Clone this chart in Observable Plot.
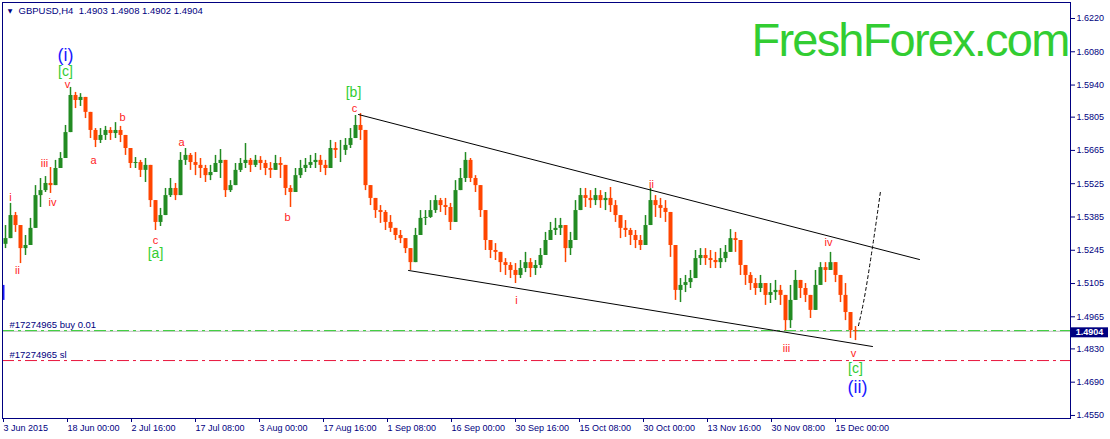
<!DOCTYPE html>
<html><head><meta charset="utf-8">
<script src="https://cdn.jsdelivr.net/npm/d3@7"></script>
<script src="https://cdn.jsdelivr.net/npm/@observablehq/plot@0.6"></script>
<style>body{margin:0;background:#fff;} svg{display:block}</style>
</head><body><div id="chart"></div>
<script>
const firstIndex = 2;
const step = 5;
const firstOpen = 1.5270;
const closes = [
1.5294,1.5391,1.5349,1.5252,1.5265,1.5337,1.5475,1.5496,1.5526,1.5517,
1.5589,1.5631,1.5740,1.5896,1.5875,1.5888,1.5825,1.5749,1.5707,1.5728,
1.5749,1.5736,1.5749,1.5728,1.5673,1.5610,1.5614,1.5581,1.5602,1.5454,
1.5362,1.5391,1.5475,1.5505,1.5475,1.5623,1.5644,1.5614,1.5602,1.5589,
1.5559,1.5572,1.5610,1.5623,1.5496,1.5517,1.5581,1.5610,1.5623,1.5602,
1.5623,1.5610,1.5589,1.5581,1.5610,1.5602,1.5505,1.5488,1.5559,1.5589,
1.5602,1.5614,1.5623,1.5602,1.5589,1.5673,1.5665,1.5665,1.5686,1.5715,
1.5770,1.5749,1.5517,1.5463,1.5412,1.5404,1.5362,1.5337,1.5307,1.5294,
1.5252,1.5193,1.5307,1.5379,1.5383,1.5412,1.5454,1.5433,1.5425,1.5362,
1.5496,1.5547,1.5623,1.5547,1.5517,1.5412,1.5286,1.5244,1.5236,1.5193,
1.5181,1.5160,1.5139,1.5168,1.5193,1.5168,1.5181,1.5223,1.5286,1.5328,
1.5337,1.5349,1.5252,1.5286,1.5412,1.5475,1.5463,1.5454,1.5475,1.5454,
1.5463,1.5433,1.5391,1.5337,1.5328,1.5307,1.5286,1.5265,1.5349,1.5454,
1.5433,1.5421,1.5404,1.5265,1.5076,1.5097,1.5109,1.5126,1.5210,1.5223,
1.5210,1.5202,1.5193,1.5210,1.5236,1.5294,1.5286,1.5181,1.5139,1.5105,
1.5084,1.5105,1.5055,1.5067,1.5076,1.5055,1.4949,1.5034,1.5118,1.5084,
1.5055,1.4992,1.5097,1.5172,1.5160,1.5193,1.5139,1.5055,1.4983,1.4907,
1.4904];
const highs = [
1.5349,1.5442,1.5404,1.5294,1.5307,1.5379,1.5517,1.5547,1.5555,1.5593,
1.5623,1.5656,1.5770,1.5930,1.5909,1.5904,1.5862,1.5799,1.5757,1.5757,
1.5766,1.5761,1.5782,1.5766,1.5715,1.5644,1.5635,1.5623,1.5631,1.5517,
1.5433,1.5421,1.5505,1.5547,1.5526,1.5656,1.5673,1.5652,1.5656,1.5631,
1.5602,1.5602,1.5644,1.5669,1.5538,1.5538,1.5610,1.5631,1.5694,1.5631,
1.5644,1.5639,1.5623,1.5614,1.5644,1.5635,1.5547,1.5517,1.5589,1.5623,
1.5631,1.5644,1.5652,1.5644,1.5623,1.5707,1.5698,1.5707,1.5715,1.5757,
1.5812,1.5820,1.5749,1.5505,1.5454,1.5433,1.5412,1.5391,1.5337,1.5328,
1.5294,1.5252,1.5337,1.5412,1.5412,1.5454,1.5475,1.5463,1.5463,1.5442,
1.5538,1.5589,1.5656,1.5631,1.5559,1.5496,1.5412,1.5286,1.5273,1.5236,
1.5210,1.5193,1.5189,1.5202,1.5236,1.5210,1.5202,1.5252,1.5320,1.5362,
1.5379,1.5379,1.5349,1.5320,1.5454,1.5505,1.5505,1.5496,1.5505,1.5496,
1.5488,1.5509,1.5454,1.5391,1.5370,1.5337,1.5328,1.5307,1.5391,1.5505,
1.5475,1.5463,1.5454,1.5404,1.5265,1.5126,1.5139,1.5160,1.5244,1.5252,
1.5252,1.5244,1.5236,1.5252,1.5265,1.5332,1.5320,1.5286,1.5181,1.5151,
1.5126,1.5139,1.5105,1.5105,1.5118,1.5097,1.5055,1.5097,1.5160,1.5118,
1.5105,1.5055,1.5160,1.5193,1.5193,1.5236,1.5193,1.5139,1.5105,1.4983,
1.4924];
const lows = [
1.5252,1.5294,1.5320,1.5189,1.5223,1.5265,1.5337,1.5425,1.5488,1.5484,
1.5517,1.5589,1.5631,1.5740,1.5841,1.5850,1.5799,1.5715,1.5677,1.5694,
1.5707,1.5707,1.5715,1.5698,1.5644,1.5589,1.5589,1.5551,1.5530,1.5425,
1.5328,1.5345,1.5391,1.5467,1.5454,1.5475,1.5602,1.5581,1.5559,1.5547,
1.5530,1.5538,1.5572,1.5547,1.5467,1.5488,1.5517,1.5572,1.5589,1.5572,
1.5593,1.5581,1.5559,1.5547,1.5581,1.5547,1.5475,1.5425,1.5488,1.5547,
1.5572,1.5589,1.5589,1.5572,1.5559,1.5589,1.5631,1.5614,1.5644,1.5673,
1.5715,1.5707,1.5496,1.5433,1.5379,1.5358,1.5328,1.5320,1.5286,1.5273,
1.5231,1.5160,1.5193,1.5307,1.5349,1.5379,1.5400,1.5404,1.5391,1.5328,
1.5362,1.5496,1.5530,1.5530,1.5488,1.5383,1.5244,1.5210,1.5202,1.5151,
1.5139,1.5126,1.5105,1.5126,1.5151,1.5130,1.5139,1.5168,1.5223,1.5286,
1.5307,1.5307,1.5193,1.5223,1.5286,1.5412,1.5425,1.5421,1.5433,1.5421,
1.5412,1.5404,1.5362,1.5294,1.5299,1.5265,1.5252,1.5244,1.5265,1.5349,
1.5383,1.5379,1.5362,1.5215,1.5034,1.5025,1.5067,1.5084,1.5126,1.5181,
1.5181,1.5168,1.5168,1.5168,1.5193,1.5236,1.5236,1.5139,1.5097,1.5076,
1.5055,1.5067,1.5013,1.5021,1.5034,1.5013,1.4906,1.4916,1.5034,1.5042,
1.5025,1.4958,1.5042,1.5097,1.5109,1.5160,1.5109,1.5025,1.4949,1.4874,
1.4865];

const lastPrice = 1.4904;
const buyPrice = 1.4907;
const slPrice = 1.4781;
const buyText = "#17274965 buy 0.01";
const slText = "#17274965 sl";
const titleText = "GBPUSD,H4  1.4903 1.4908 1.4902 1.4904";
const brandText = "FreshForex.com";

const priceTicks = [1.6220,1.6080,1.5940,1.5805,1.5665,1.5525,1.5385,1.5245,1.5105,1.4965,1.4830,1.4690,1.4550];
const timeTickIdx = [0,64,128,192,256,320,384,448,512,576,640,704,768,832];
const timeTickLabels = ["3 Jun 2015","18 Jun 00:00","2 Jul 16:00","17 Jul 08:00","3 Aug 00:00","17 Aug 16:00","1 Sep 08:00","16 Sep 00:00","30 Sep 16:00","15 Oct 08:00","30 Oct 00:00","13 Nov 16:00","30 Nov 08:00","15 Dec 00:00"];

// channel and projection [bar index, price]
const upperLine = [[355,1.5816],[916,1.5206]];
const lowerLine = [[405,1.5160],[869,1.4840]];
const projection = [[855,1.4928],[860,1.5026],[869,1.5258],[877,1.5493]];
const leftMarker = [[0,1.5097,1.5034]];

// wave labels [text, bar index, price]
const redLabels = [["i",7,1.5467],["ii",14,1.5160],["iii",41,1.5610],["iv",49,1.5446],["v",64,1.5941],
  ["a",90,1.5623],["b",119,1.5803],["c",152,1.5286],["a",178,1.5698],["b",284,1.5383],["c",351,1.5841],
  ["i",513,1.5034],["ii",648,1.5522],["iii",783,1.4832],["iv",825,1.5278],["v",850,1.4810]];
const greenLabels = [["[c]",62,1.5995],["[a]",152,1.5231],["[b]",350,1.5909],["[c]",852,1.4748]];
const blueLabels = [["(i)",62,1.6066],["(ii)",854,1.4668]];

const UP = "#228b22", DOWN = "#ff4500", NAVY = "#000080", LIME = "#32cd32", RED = "#ff2424", BLUE = "#1a1aff";

const candles = closes.map((c, k) => {
  const open = k ? closes[k - 1] : firstOpen;
  return {i: firstIndex + k * step, open, close: c,
    high: Math.max(highs[k], open, c), low: Math.min(lows[k], open, c)};
});
const tickMap = new Map(timeTickIdx.map((d, k) => [d, timeTickLabels[k]]));
const labelOpts = (fill, size) => ({x: d => d[1], y: d => d[2], text: d => d[0], fill, fontSize: size,
  textAnchor: "middle", lineAnchor: "middle", fontFamily: "Liberation Sans, Arial, sans-serif"});

const chart = Plot.plot({
  width: 1110, height: 439,
  marginLeft: 2, marginRight: 40, marginTop: 2, marginBottom: 21,
  style: {fontFamily: "Liberation Sans, Arial, sans-serif", fontSize: "9px", color: NAVY, background: "#fff", overflow: "visible"},
  x: {domain: [-1, 1067], axis: null},
  y: {domain: [1.45372, 1.62873], axis: null},
  color: {type: "identity"},
  marks: [
    Plot.ruleY([lastPrice], {stroke: "#c0c0c0", strokeWidth: 1}),
    Plot.ruleY([buyPrice], {stroke: LIME, strokeWidth: 1, strokeDasharray: "12,4,3,4"}),
    Plot.ruleY([slPrice], {stroke: "#e8163c", strokeWidth: 1, strokeDasharray: "12,4,3,4"}),
    Plot.text([buyText], {y: () => buyPrice, text: d => d, frameAnchor: "left", dx: 7, dy: -6, textAnchor: "start", lineAnchor: "middle", fontSize: 9.5, fill: NAVY}),
    Plot.text([slText], {y: () => slPrice, text: d => d, frameAnchor: "left", dx: 7, dy: -6, textAnchor: "start", lineAnchor: "middle", fontSize: 9.5, fill: NAVY}),
    Plot.ruleX(candles, {x: "i", y1: "low", y2: "high", stroke: d => d.close >= d.open ? UP : DOWN, strokeWidth: 1.5}),
    Plot.ruleX(candles, {x: "i", y1: "open", y2: "close", stroke: d => d.close >= d.open ? UP : DOWN, strokeWidth: 4}),
    Plot.line(upperLine, {x: d => d[0], y: d => d[1], stroke: "#000", strokeWidth: 1}),
    Plot.line(lowerLine, {x: d => d[0], y: d => d[1], stroke: "#000", strokeWidth: 1}),
    Plot.line(projection, {x: d => d[0], y: d => d[1], stroke: "#000", strokeWidth: 1, strokeDasharray: "3,3", curve: "monotone-x"}),
    Plot.ruleX(leftMarker, {x: d => d[0], y1: d => d[1], y2: d => d[2], stroke: BLUE, strokeWidth: 2}),
    Plot.text(redLabels, labelOpts(RED, 11)),
    Plot.text(greenLabels, labelOpts(LIME, 14)),
    Plot.text(blueLabels, labelOpts(BLUE, 18)),
    Plot.text([brandText], {text: d => d, frameAnchor: "top-right", dx: -2, dy: 20, lineAnchor: "top", textAnchor: "end", fontSize: 47, fill: LIME}),
    Plot.text(["\u25BC"], {text: d => d, frameAnchor: "top-left", dx: 7.5, dy: 8.5, lineAnchor: "middle", textAnchor: "middle", fontSize: 6, fill: NAVY, fontFamily: "DejaVu Sans"}),
    Plot.text([titleText], {text: d => d, frameAnchor: "top-left", dx: 16, dy: 5, lineAnchor: "top", textAnchor: "start", fontSize: 9.5, fill: NAVY}),
    Plot.frame({stroke: NAVY}),
    Plot.axisX({ticks: timeTickIdx, tickFormat: d => tickMap.get(d), tickSize: 4, tickPadding: 2, textAnchor: "start", label: null, fontSize: 9}),
    Plot.axisY({anchor: "right", ticks: priceTicks, tickFormat: d => d.toFixed(4), tickSize: 4, tickPadding: 2, label: null, fontSize: 9})
  ]
});
document.getElementById("chart").appendChild(chart);

const svg = d3.select(chart);
svg.selectAll("text").filter(function() { return this.textContent === brandText; }).attr("letter-spacing", "-1.8px");
const yv = chart.scale("y").apply(lastPrice);
svg.append("rect").attr("x", 1071).attr("y", yv - 3.5).attr("width", 37).attr("height", 10).attr("fill", NAVY);
svg.append("text").attr("x", 1089.5).attr("y", yv + 4.5).attr("text-anchor", "middle").attr("fill", "#fff")
  .attr("font-size", 9).attr("font-weight", "bold").text(lastPrice.toFixed(4));
</script>
</body></html>
